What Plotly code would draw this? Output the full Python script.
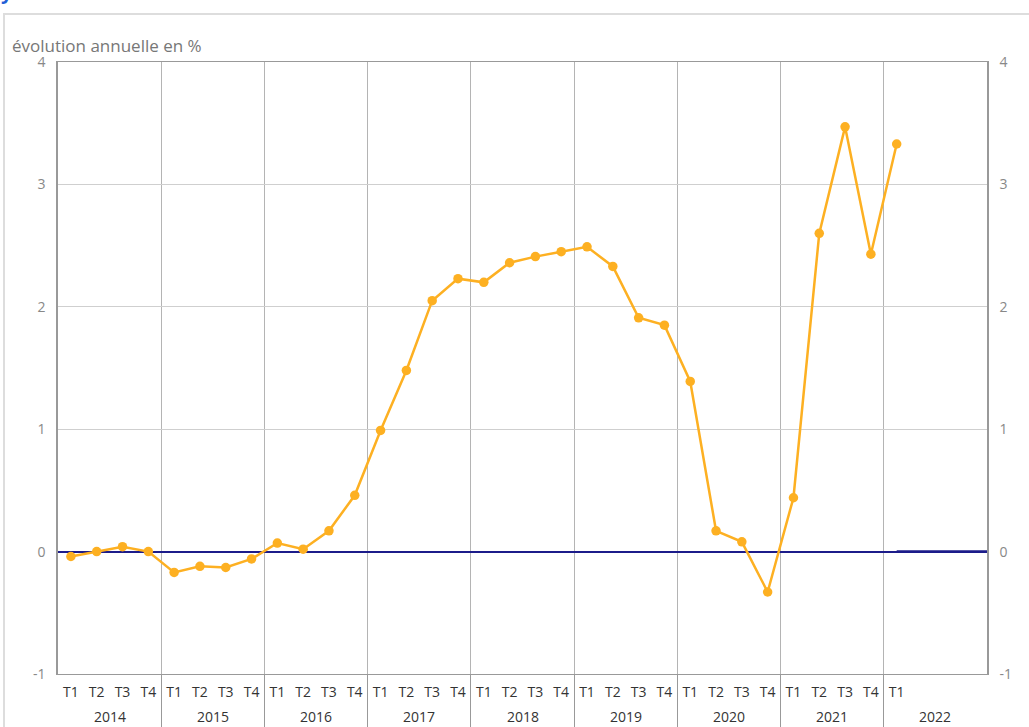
import plotly.graph_objects as go

years = ["2014", "2015", "2016", "2017", "2018", "2019", "2020", "2021", "2022"]
quarters = ["T1", "T2", "T3", "T4"]
values = [
    -0.04, 0.00, 0.04, 0.00,
    -0.17, -0.12, -0.13, -0.06,
    0.07, 0.02, 0.17, 0.46,
    0.99, 1.48, 2.05, 2.23,
    2.20, 2.36, 2.41, 2.45,
    2.49, 2.33, 1.91, 1.85,
    1.39, 0.17, 0.08, -0.33,
    0.44, 2.60, 3.47, 2.43,
    3.33,
]
y_ticks = [-1, 0, 1, 2, 3, 4]
y_ticktext = ["-1", "0", "1", "2", "3", "4"]
y_title = "évolution annuelle en %"

n_slots = len(years) * len(quarters)
slot_idx = list(range(n_slots))
slot_labels = [q if i < len(values) else "" for i, q in enumerate(quarters * len(years))]
x_pts = list(range(len(values)))
boundaries = [i * len(quarters) - 0.5 for i in range(1, len(years))]

FONT = "Open Sans"
ORANGE = "#FDB022"
NAVY = "#1c1c8a"

fig = go.Figure()
fig.add_trace(go.Scatter(
    x=x_pts, y=values, mode="lines+markers",
    line=dict(color=ORANGE, width=2.5),
    marker=dict(color=ORANGE, size=9.5),
    showlegend=False, hoverinfo="skip",
))
# invisible trace to activate right axis
fig.add_trace(go.Scatter(x=[0], y=[0], yaxis="y2", mode="markers",
                         marker=dict(opacity=0), showlegend=False, hoverinfo="skip"))

fig.update_layout(
    width=1029, height=727,
    margin=dict(l=58, r=42, t=62, b=53, autoexpand=False),
    paper_bgcolor="white", plot_bgcolor="white",
    font=dict(family=FONT, size=14, color="#666"),
    xaxis=dict(
        range=[-0.5, n_slots - 0.5], automargin=False,
        tickmode="array", tickvals=slot_idx, ticktext=slot_labels,
        showgrid=False, zeroline=False,
        showline=True, linecolor="#999", linewidth=1, mirror=True,
        ticks="", ticklabelstandoff=5,
        tickfont=dict(family=FONT, size=14, color="#333"),
        minor=dict(tickmode="array", tickvals=boundaries, showgrid=True,
                   gridcolor="#b4b4b4", gridwidth=1,
                   ticks="outside", ticklen=53, tickcolor="#999", tickwidth=1),
    ),
    yaxis=dict(
        range=[-1, 4], tickmode="array", tickvals=y_ticks, ticktext=y_ticktext,
        automargin=False,
        showgrid=True, gridcolor="#cfcfcf", gridwidth=1,
        zeroline=True, zerolinecolor=NAVY, zerolinewidth=1.5,
        showline=True, linecolor="#999", linewidth=1.5,
        ticks="", ticklabelstandoff=8,
        tickfont=dict(family=FONT, size=14, color="#888"),
    ),
    yaxis2=dict(
        range=[-1, 4], tickmode="array", tickvals=y_ticks, ticktext=y_ticktext,
        automargin=False,
        overlaying="y", side="right", showgrid=False, zeroline=False,
        showline=True, linecolor="#999", linewidth=1.5,
        ticks="", ticklabelstandoff=8,
        tickfont=dict(family=FONT, size=14, color="#888"),
    ),
)

# thicker zero-line segment on last period
fig.add_shape(type="line", xref="x", yref="y",
              x0=len(values) - 1, x1=n_slots - 0.5, y0=0, y1=0,
              line=dict(color=NAVY, width=2.5), layer="above")

# year labels
for i, yr in enumerate(years):
    center = i * len(quarters) + (len(quarters) - 1) / 2
    fig.add_annotation(x=center, xref="x", y=-(716 - 674) / 612, yref="paper",
                       text=yr, showarrow=False, yanchor="middle",
                       font=dict(family=FONT, size=14, color="#333"))

# unit label
fig.add_annotation(x=(10 - 58) / 929, xref="paper", y=1 + (62 - 45) / 612, yref="paper",
                   text=y_title, showarrow=False, xanchor="left", yanchor="middle",
                   font=dict(family=FONT, size=17, color="#777"))

# outer frame
fig.add_shape(type="rect", xref="paper", yref="paper",
              x0=(4 - 58) / 929, x1=1.2, y0=-0.3, y1=1 + (62 - 14) / 612,
              line=dict(color="#dddddd", width=2), layer="below")

# cut-off title descender
fig.add_annotation(x=(-1 - 58) / 929, xref="paper", y=1 + (62 - 7) / 612, yref="paper",
                   text="<b>y</b>", showarrow=False, xanchor="left", yanchor="bottom",
                   font=dict(family=FONT, size=20, color="#1f5fd6"))

fig.write_html("out.html", config={"displayModeBar": False},
               post_script="document.body.style.margin='0';")
